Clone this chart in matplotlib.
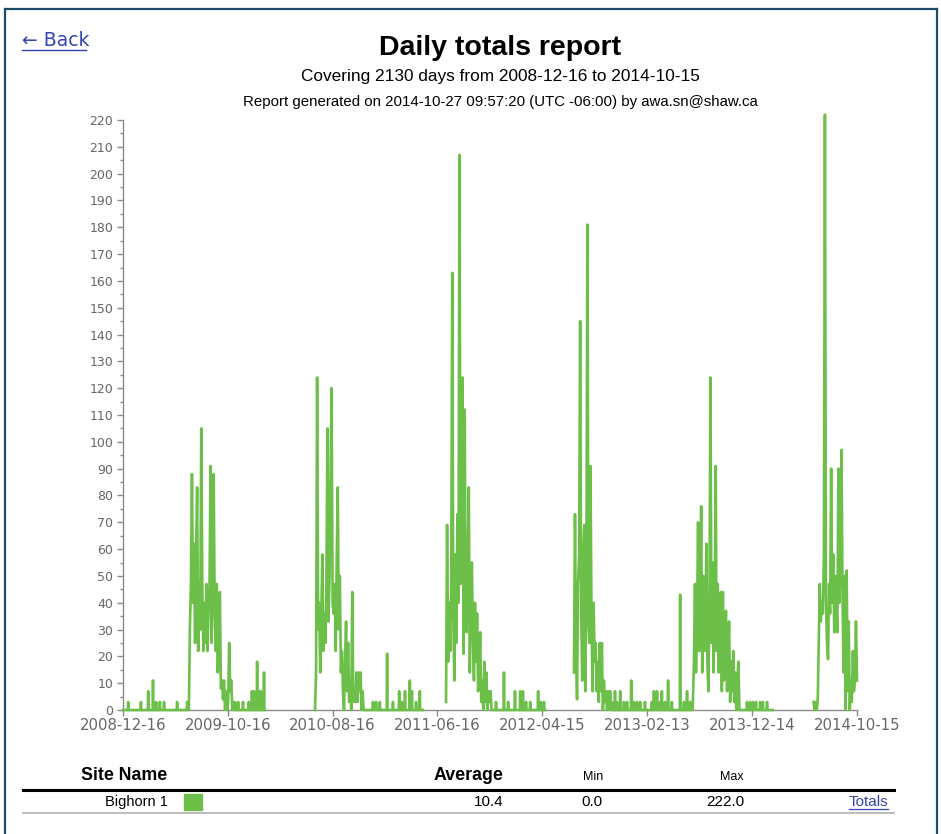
import numpy as np
import pandas as pd
import matplotlib
matplotlib.use("Agg")
import matplotlib.pyplot as plt
import matplotlib.dates as mdates
from matplotlib.lines import Line2D
from matplotlib.patches import Rectangle

W, H = 941, 834
GREEN = '#6cbf48'
LINK = '#3344b0'

# Data
first_day = '2008-12-16'
last_day = '2014-10-15'

# stretches where the logger reported (value 0 unless listed below)
present_starts = ['2008-12-16', '2010-06-26', '2011-07-11', '2012-07-16', '2014-06-11']
present_ends = ['2010-01-31', '2011-05-05', '2012-04-23', '2014-02-13', '2014-10-15']

# isolated small totals outside the main seasons
pulse_dates = ['2008-12-31', '2009-02-06', '2009-02-27', '2009-03-13', '2009-03-22', '2009-04-02',
               '2009-04-14', '2009-05-22', '2009-06-20',
               '2009-11-06', '2009-11-15', '2009-11-29', '2009-12-16', '2009-12-25', '2009-12-31',
               '2010-01-09', '2010-01-14', '2010-01-20', '2010-01-29',
               '2010-12-11', '2010-12-20', '2010-12-31', '2011-01-21', '2011-02-07', '2011-02-25',
               '2011-03-05', '2011-03-14', '2011-03-28', '2011-04-03', '2011-04-15', '2011-04-26',
               '2011-12-03', '2011-12-26', '2012-01-07', '2012-01-27', '2012-02-11', '2012-02-19',
               '2012-02-28', '2012-03-11', '2012-04-03', '2012-04-11', '2012-04-20',
               '2012-11-03', '2012-11-12', '2012-11-18', '2012-11-27', '2012-12-08', '2012-12-17',
               '2012-12-29', '2013-01-06', '2013-01-15', '2013-01-24', '2013-02-07', '2013-02-27',
               '2013-03-05', '2013-03-14', '2013-03-23', '2013-03-28', '2013-04-06', '2013-04-15',
               '2013-04-26', '2013-05-20', '2013-05-31', '2013-06-09', '2013-06-18',
               '2013-11-30', '2013-12-09', '2013-12-17', '2013-12-26', '2014-01-07', '2014-01-15',
               '2014-01-27']
pulse_values = [3, 3, 7, 11, 3, 3, 3, 3, 3,
                3, 3, 3, 3, 7, 7, 18, 7, 7, 14,
                3, 3, 3, 21, 3, 7, 3, 7, 11, 7, 3, 7,
                3, 14, 3, 7, 7, 7, 3, 3, 7, 3, 3,
                3, 7, 3, 7, 3, 3, 11, 3, 3, 3, 3, 3, 7, 7, 3, 7, 3, 11, 3, 43, 3, 7, 3,
                3, 3, 3, 3, 3, 3, 3]

# main seasons, one reading every 3 days
season_step = 3
season_starts = ['2009-06-25', '2010-06-26', '2011-07-11', '2012-07-16', '2013-06-26', '2014-06-11']
season_2009 = [0, 30, 47, 88, 40, 62, 25, 58, 83, 22, 47, 30, 105, 47, 22, 40, 25, 47, 22, 36,
               47, 91, 25, 47, 88, 36, 22, 47, 14, 33, 44, 8, 11, 4, 11, 0, 7, 0, 3, 25, 7, 11, 0, 3, 0]
season_2010 = [0, 14, 124, 30, 40, 14, 33, 58, 22, 36, 25, 47, 105, 33, 50, 88, 120, 40, 36, 47,
               22, 58, 83, 30, 50, 14, 22, 7, 0, 18, 33, 7, 25, 3, 11, 0, 44, 3, 7, 3, 14, 3, 14, 7,
               14, 0, 7, 0]
season_2011 = [3, 69, 18, 40, 22, 47, 163, 36, 11, 58, 25, 73, 40, 207, 47, 72, 124, 21, 112, 40,
               29, 58, 83, 14, 47, 55, 25, 11, 40, 18, 36, 7, 14, 29, 3, 11, 0, 18, 3, 14, 0, 7, 3, 7, 0]
season_2012 = [14, 73, 22, 4, 47, 58, 145, 36, 11, 58, 69, 7, 47, 181, 33, 25, 91, 33, 7, 40,
               18, 25, 7, 18, 3, 25, 7, 25, 0, 11, 3, 7, 0, 7, 0, 7, 0]
season_2013 = [3, 18, 47, 14, 33, 70, 22, 40, 76, 14, 50, 29, 22, 62, 18, 7, 40, 124, 25, 55,
               14, 36, 91, 22, 47, 14, 33, 44, 7, 44, 11, 29, 37, 7, 22, 33, 3, 18, 7, 22, 3, 14,
               0, 11, 18, 0]
season_2014 = [3, 0, 3, 0, 3, 25, 47, 33, 40, 36, 58, 222, 40, 25, 19, 47, 36, 90, 40, 58,
               29, 50, 40, 29, 90, 40, 58, 97, 44, 14, 50, 0, 52, 7, 33, 0, 11, 3, 22, 7, 11, 33, 11]
season_values = [season_2009, season_2010, season_2011, season_2012, season_2013, season_2014]

tick_dates = ['2008-12-16', '2009-10-16', '2010-08-16', '2011-06-16', '2012-04-15',
              '2013-02-13', '2013-12-14', '2014-10-15']

site_names = ['Bighorn 1']
site_avg = [10.4]
site_min = [0.0]
site_max = [222.0]

# Build the daily series
days = pd.date_range(first_day, last_day, freq='D')
daily = pd.Series(np.nan, index=days)
for a, b in zip(present_starts, present_ends):
    daily[a:b] = 0.0
for d, v in zip(pulse_dates, pulse_values):
    daily[pd.Timestamp(d)] = v

parts = []
for start, vals in zip(season_starts, season_values):
    idx = pd.date_range(start, periods=len(vals), freq=f'{season_step}D')
    daily = daily[(daily.index < idx[0]) | (daily.index > idx[-1])]
    parts.append(pd.Series(vals, index=idx, dtype=float))
series = pd.concat([daily] + parts).sort_index()


def fx(x):
    return x / W


def fy(y):
    return 1 - y / H


fig = plt.figure(figsize=(W / 100, H / 100), dpi=100)
ax = fig.add_axes([fx(123), fy(710), (857 - 123) / W, (710 - 120) / H])

ax.plot(series.index, series.values, color=GREEN, lw=1.9, clip_on=False, zorder=3)

ax.set_xlim(pd.Timestamp(first_day), pd.Timestamp(last_day))
ax.set_ylim(0, 220)
ax.set_yticks(np.arange(0, 221, 10))
ax.set_yticks(np.arange(5, 220, 10), minor=True)
ax.set_xticks([pd.Timestamp(t) for t in tick_dates])
ax.set_xticklabels(tick_dates)

for side in ['top', 'right']:
    ax.spines[side].set_visible(False)
for side in ['left', 'bottom']:
    ax.spines[side].set_color('#8a8a8a')
    ax.spines[side].set_linewidth(1.0)
ax.tick_params(axis='both', which='major', length=4, width=1, color='#8a8a8a', labelcolor='#666666')
ax.tick_params(axis='y', which='minor', length=2, width=1, color='#8a8a8a')
ax.tick_params(axis='y', labelsize=9, pad=3)
ax.tick_params(axis='x', labelsize=10.7, pad=2)

# Page header
fig.text(fx(500), fy(48), 'Daily totals report', ha='center', va='center',
         fontsize=20.5, fontweight='bold', family='Liberation Sans')
fig.text(fx(500), fy(76), 'Covering 2130 days from 2008-12-16 to 2014-10-15', ha='center',
         va='center', fontsize=12.4, family='Liberation Sans')
fig.text(fx(500), fy(102), 'Report generated on 2014-10-27 09:57:20 (UTC -06:00) by awa.sn@shaw.ca',
         ha='center', va='center', fontsize=10.8, family='Liberation Sans')
fig.text(fx(22), fy(41), '\u2190 Back', ha='left', va='center', fontsize=13.5,
         color=LINK, family=['DejaVu Sans'])
fig.add_artist(Line2D([fx(22), fx(86)], [fy(50), fy(50)], color=LINK, lw=1))

# Frame of the page
frame = '#1d4b6a'
fig.add_artist(Line2D([fx(5), fx(937)], [fy(9), fy(9)], color=frame, lw=1.6))
fig.add_artist(Line2D([fx(5), fx(5)], [fy(9), fy(834)], color=frame, lw=1.6))
fig.add_artist(Line2D([fx(937), fx(937)], [fy(9), fy(834)], color=frame, lw=1.6))

# Summary table
fig.text(fx(124), fy(776), 'Site Name', ha='center', va='center', fontsize=12.8,
         fontweight='bold', family='Liberation Sans')
fig.text(fx(503), fy(776), 'Average', ha='right', va='center', fontsize=12.8,
         fontweight='bold', family='Liberation Sans')
fig.text(fx(593), fy(777), 'Min', ha='center', va='center', fontsize=9, family='Liberation Sans')
fig.text(fx(732), fy(777), 'Max', ha='center', va='center', fontsize=9, family='Liberation Sans')
fig.add_artist(Line2D([fx(23), fx(894)], [fy(789.5), fy(789.5)], color='black', lw=2.2))

for i, name in enumerate(site_names):
    yc = 802 + i * 24
    fig.text(fx(168), fy(yc), name, ha='right', va='center', fontsize=10.5, family='Liberation Sans')
    fig.add_artist(Rectangle((fx(184), fy(yc + 8)), 18 / W, 16 / H, color=GREEN, transform=fig.transFigure))
    fig.text(fx(504), fy(yc), f'{site_avg[i]:.1f}', ha='right', va='center', fontsize=11, family='Liberation Sans')
    fig.text(fx(603), fy(yc), f'{site_min[i]:.1f}', ha='right', va='center', fontsize=11, family='Liberation Sans')
    fig.text(fx(744), fy(yc), f'{site_max[i]:.1f}', ha='right', va='center', fontsize=11, family='Liberation Sans')
    fig.text(fx(888), fy(yc), 'Totals', ha='right', va='center', fontsize=11, color=LINK, family='Liberation Sans')
    fig.add_artist(Line2D([fx(849), fx(888)], [fy(yc + 7), fy(yc + 7)], color=LINK, lw=0.9))
    fig.add_artist(Line2D([fx(23), fx(894)], [fy(yc + 11), fy(yc + 11)], color='#b0b0b0', lw=1.2))

fig.savefig('out.png', dpi=100)
